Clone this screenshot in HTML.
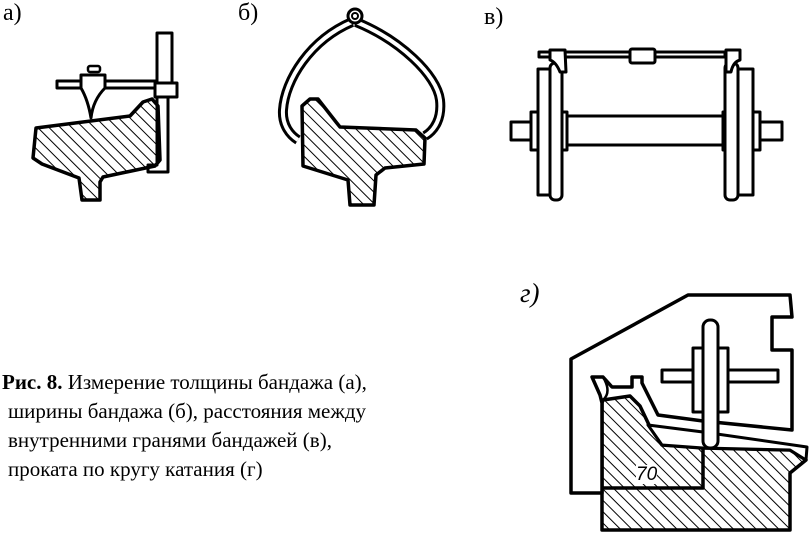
<!DOCTYPE html>
<html><head><meta charset="utf-8"><style>
body{margin:0;background:#fff;width:809px;height:538px;overflow:hidden;position:relative;font-family:"Liberation Serif",serif}
.t{position:absolute;font-size:21px;color:#000;white-space:nowrap;line-height:29px}
.l{position:absolute;font-size:24px;color:#000}
</style></head><body>
<svg width="809" height="538" style="position:absolute;left:0;top:0" fill="none" stroke="#000" stroke-linejoin="round">
<defs>
<pattern id="h" width="8" height="8" patternUnits="userSpaceOnUse" patternTransform="rotate(-45)">
<line x1="0" y1="0" x2="0" y2="8" stroke="#000" stroke-width="2"/>
</pattern>
</defs>
<!-- a -->
<path d="M148 165 L148 172 L168 172 L168 97 L172 97 L172 33 L157 33 L157 165 Z" fill="#fff" stroke-width="3"/>
<path d="M36 128 L130 116 L143 102 L152 99 L158 106 L160 160 L155 166 L103 177 L100 182 L100 200 L82 200 L79 178 L42 164 L33 158 Z" fill="url(#h)" stroke-width="3.5"/>
<rect x="57" y="81" width="100" height="7" fill="#fff" stroke-width="3"/>
<rect x="155" y="83" width="22" height="14" fill="#fff" stroke-width="3"/>
<path d="M81 75 L105 75 L105 88 Q93 100 91 118 Q88 100 81 88 Z" fill="#fff" stroke-width="3"/>
<rect x="88" y="66" width="12" height="6" rx="2" fill="#fff" stroke-width="2.5"/>
<!-- b -->
<path d="M352 22 C310 40 285 80 283 110 C282 125 290 135 298 140" stroke-width="10"/>
<path d="M352 22 C310 40 285 80 283 110 C282 125 290 135 298 140" stroke="#fff" stroke-width="4"/>
<path d="M356 22 C400 40 437 75 440 100 C442 118 435 130 425 136" stroke-width="10"/>
<path d="M356 22 C400 40 437 75 440 100 C442 118 435 130 425 136" stroke="#fff" stroke-width="4"/>
<circle cx="355" cy="16" r="7" fill="#fff" stroke-width="3"/>
<circle cx="355" cy="16" r="3" stroke-width="2"/>
<path d="M302 106 L310 99 L318 99 L336 122 L340 127 L416 130 L425 138 L424 164 L385 168 L376 175 L374 205 L350 205 L348 180 L303 166 Z" fill="url(#h)" stroke-width="3.5"/>
<!-- c -->
<g stroke-width="3" fill="#fff">
<rect x="539" y="52" width="186" height="5"/>
<rect x="630" y="49" width="25" height="14" rx="2"/>
<rect x="564" y="116" width="160" height="29"/>
<rect x="511" y="122" width="22" height="18"/>
<rect x="760" y="122" width="22" height="18"/>
<rect x="531" y="112" width="36" height="38"/>
<rect x="723" y="112" width="37" height="38"/>
<rect x="538" y="69" width="14" height="126"/>
<rect x="550" y="63" width="12" height="137" rx="5"/>
<rect x="738" y="69" width="15" height="126"/>
<rect x="725" y="63" width="13" height="137" rx="5"/>
<path d="M550 50 L565 50 L566 72 L560 72 Q556 62 550 60 Z"/>
<path d="M726 50 L740 50 L740 60 Q733 62 731 72 L726 72 Z"/>
</g>
<!-- d -->
<path d="M602 403 L603 400 L630 396 L640 406 L650 427 L662 445 L703 448 L790 450 L806 460 L790 473 L790 530 L602 530 Z" fill="url(#h)" stroke-width="3.5"/>
<path d="M602 488 L703 488 L703 448" stroke-width="3.5"/>
<path d="M571 493 L571 359 L688 295 L790 295 L792 317 L772 317 L772 350 L792 350 L792 430 L703 421 L658 415 L642 383 L642 377 L632 377 L632 387 L612 387 L603 377 L592 377 L600 395 L602 403 L602 493 Z" fill="#fff" stroke-width="3.5"/>
<path d="M603 377 Q612 392 603 400" stroke-width="2.5"/>
<path d="M648 425 L703 432 L807 447 L806 460 L790 450 L703 448 L662 445 Z" fill="#fff" stroke-width="3"/>
<rect x="662" y="370" width="116" height="12" fill="#fff" stroke-width="3"/>
<rect x="693" y="348" width="35" height="64" fill="#fff" stroke-width="3"/>
<rect x="703" y="320" width="15" height="128" rx="7" fill="#fff" stroke-width="3"/>
</svg>
<div class="l" style="left:3px;top:0px">а)</div>
<div class="l" style="left:238px;top:0px">б)</div>
<div class="l" style="left:484px;top:4px">в)</div>
<div class="l" style="left:520px;top:278px;font-style:italic;font-size:27px">г)</div>
<div style="position:absolute;left:636px;top:465px;font-size:19px;font-style:italic;font-family:'Liberation Sans',sans-serif;background:#fff;line-height:19px">70</div>
<div class="t" style="left:2px;top:368px"><b>Рис. 8.</b> Измерение толщины бандажа (а),</div>
<div class="t" style="left:8px;top:397px">ширины бандажа (б), расстояния между</div>
<div class="t" style="left:8px;top:426px">внутренними гранями бандажей (в),</div>
<div class="t" style="left:8px;top:455px">проката по кругу катания (г)</div>
</body></html>
